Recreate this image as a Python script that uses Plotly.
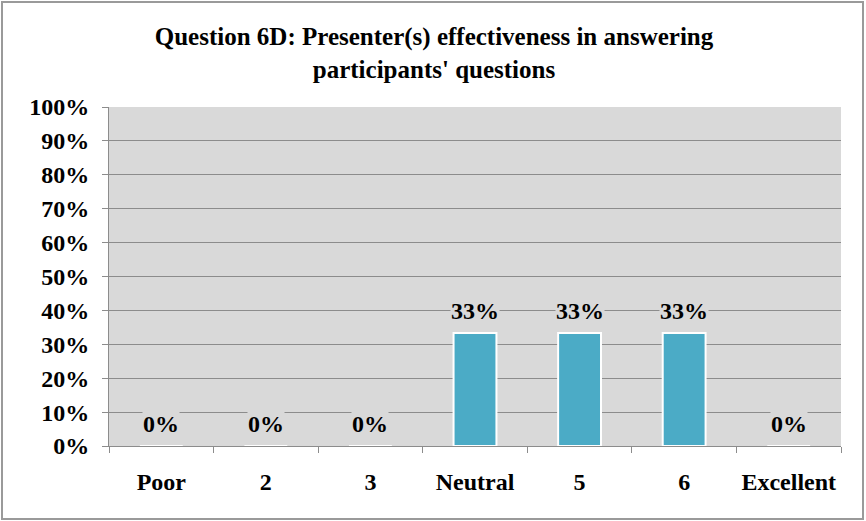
import plotly.graph_objects as go

categories = ["Poor", "2", "3", "Neutral", "5", "6", "Excellent"]
values = [0, 0, 0, 0.3333, 0.3333, 0.3333, 0]
labels = ["0%", "0%", "0%", "33%", "33%", "33%", "0%"]
y_ticks = [i / 10 for i in range(11)]
y_tick_labels = [f"{i*10}%" for i in range(11)]

FONT = "Liberation Serif"
FS = 24
W, H = 866, 521
L, R, T, B = 109, 25, 107, 75

fig = go.Figure()
fig.add_trace(go.Bar(
    x=categories, y=values, width=0.41,
    marker=dict(color="#4babc6", line=dict(color="white", width=2)),
    hoverinfo="skip",
))

for i, (v, t) in enumerate(zip(values, labels)):
    fig.add_annotation(
        x=i, y=v, text=f"<b>{t}</b>", showarrow=False,
        yanchor="middle", yshift=22, bgcolor="#d9d9d9",
        font=dict(family=FONT, size=FS, color="black"),
        borderpad=0,
    )

fig.update_layout(
    width=W, height=H,
    margin=dict(l=L, r=R, t=T, b=B),
    paper_bgcolor="white", plot_bgcolor="#d9d9d9",
    showlegend=False,
    title=dict(
        text="<b>Question 6D: Presenter(s) effectiveness in answering<br>participants' questions</b>",
        x=434 / W, xanchor="center", xref="container", y=1 - 45 / H, yanchor="top",
        font=dict(family=FONT, size=25, color="black"),
    ),
    font=dict(family=FONT, size=FS, color="black"),
)

fig.update_xaxes(
    type="category", tickson="boundaries", ticks="outside", ticklen=6,
    tickcolor="#8c8c8c", showline=True, linecolor="#8c8c8c", linewidth=1,
    showgrid=False, tickfont=dict(family=FONT, size=FS, color="black"),
    tickprefix="<b>", ticksuffix="</b>", ticklabelstandoff=14,
)
fig.update_yaxes(
    range=[0, 1], tickvals=y_ticks, ticktext=[f"<b>{t}</b>" for t in y_tick_labels],
    ticks="outside", ticklen=6, tickcolor="#8c8c8c",
    showline=True, linecolor="#8c8c8c", linewidth=1,
    showgrid=True, gridcolor="#8c8c8c", gridwidth=1, zeroline=False,
    tickfont=dict(family=FONT, size=FS, color="black"), ticklabelstandoff=8,
)

pw, ph = W - L - R, H - T - B
fig.add_shape(
    type="rect", xref="paper", yref="paper",
    x0=(2 - L) / pw, x1=(863 - L) / pw, y0=-(B - 2) / ph, y1=1 + (T - 2) / ph,
    line=dict(color="#9a9a9a", width=2), fillcolor="rgba(0,0,0,0)",
)

fig.write_html("out.html", config={"displayModeBar": False},
               post_script="document.body.style.margin='0';")
